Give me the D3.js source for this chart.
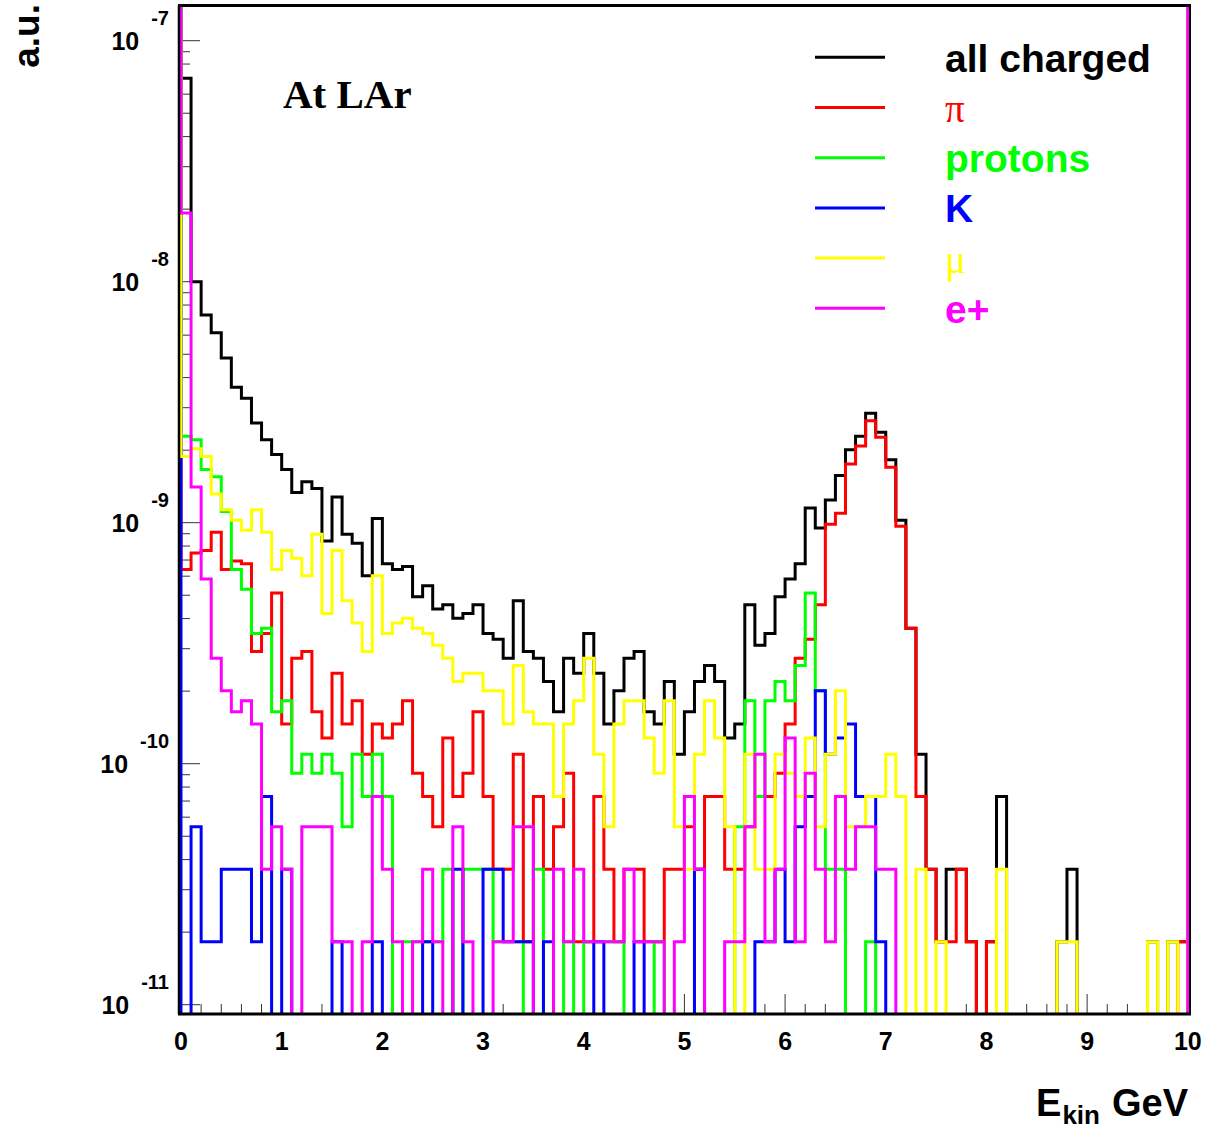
<!DOCTYPE html>
<html>
<head>
<meta charset="utf-8">
<script src="https://cdn.jsdelivr.net/npm/d3@7/dist/d3.min.js"></script>
<style>
  html, body { margin: 0; padding: 0; background: #fff; }
  svg { display: block; }
  .sans { font-family: "Liberation Sans", Arial, Helvetica, sans-serif; font-weight: bold; }
  .serif { font-family: "Liberation Serif", "Times New Roman", serif; }
</style>
</head>
<body>
<svg id="chart" width="1208" height="1131"></svg>
<script>
// Kinetic-energy spectra of charged particles at LAr.
// 100 bins of 0.1 GeV from 0 to 10 GeV; values are entries per bin.
const ENTRY_WEIGHT = 1.826e-11;   // a.u. per entry
const BIN_WIDTH = 0.1;            // GeV

const allCharged = [
  3825, 548, 398, 336, 264, 200, 180, 142, 121, 105,
  91, 73, 81, 76, 46, 70, 49, 45, 33, 57,
  37, 35, 36, 27, 30, 24, 25, 22, 23, 25,
  19, 18, 15, 26, 16, 15, 12, 9, 15, 13,
  19, 13, 8, 11, 15, 16, 9, 8, 12, 6,
  9, 12, 14, 12, 7, 8, 25, 17, 19, 27,
  32, 37, 63, 52, 68, 86, 110, 125, 156, 130,
  100, 56, 20, 6, 2, 1, 2, 2, 1, 0,
  1, 4, 0, 0, 0, 0, 0, 1, 2, 0,
  0, 0, 0, 0, 0, 0, 1, 0, 1, 1
];
const pions = [
  35, 41, 42, 50, 35, 38, 37, 16, 19, 28,
  8, 15, 16, 9, 7, 13, 8, 10, 6, 8,
  7, 8, 10, 5, 4, 3, 7, 4, 5, 9,
  4, 2, 2, 6, 1, 4, 2, 3, 5, 1,
  1, 4, 2, 1, 2, 2, 1, 1, 2, 2,
  3, 2, 4, 4, 2, 2, 3, 4, 4, 5,
  8, 15, 18, 25, 54, 60, 96, 114, 145, 124,
  93, 53, 20, 4, 2, 1, 1, 2, 1, 0,
  1, 0, 0, 0, 0, 0, 0, 0, 0, 0,
  0, 0, 0, 0, 0, 0, 0, 0, 0, 1
];
const protons = [
  125, 121, 91, 85, 61, 35, 29, 19, 20, 9,
  10, 5, 6, 5, 6, 5, 3, 6, 4, 6,
  4, 0, 1, 1, 1, 1, 2, 0, 2, 2,
  2, 1, 1, 1, 0, 2, 0, 0, 1, 0,
  1, 1, 1, 1, 0, 0, 0, 1, 0, 0,
  0, 0, 0, 0, 0, 3, 10, 4, 10, 12,
  10, 14, 28, 11, 2, 2, 0, 0, 1, 0,
  0, 0, 0, 0, 0, 0, 0, 0, 0, 0,
  0, 0, 0, 0, 0, 0, 0, 0, 0, 0,
  0, 0, 0, 0, 0, 0, 0, 0, 0, 0
];
const kaons = [
  0, 3, 1, 1, 2, 2, 2, 1, 4, 0,
  2, 0, 0, 0, 0, 1, 0, 0, 0, 1,
  0, 0, 0, 0, 1, 0, 0, 2, 0, 0,
  2, 2, 1, 1, 1, 0, 1, 0, 0, 0,
  0, 1, 0, 0, 0, 1, 0, 0, 0, 0,
  0, 2, 0, 0, 0, 0, 0, 1, 1, 2,
  1, 3, 4, 11, 6, 7, 8, 4, 4, 1,
  0, 0, 0, 0, 0, 0, 0, 0, 0, 0,
  0, 0, 0, 0, 0, 0, 0, 0, 0, 0,
  0, 0, 0, 0, 0, 0, 0, 0, 0, 0
];
const muons = [
  103, 111, 103, 72, 62, 56, 51, 62, 50, 35,
  42, 39, 33, 49, 23, 42, 26, 21, 16, 33,
  19, 21, 22, 20, 19, 17, 15, 12, 13, 13,
  11, 11, 8, 14, 9, 8, 8, 4, 8, 10,
  15, 6, 3, 8, 10, 10, 7, 5, 10, 3,
  2, 6, 10, 7, 3, 0, 6, 2, 2, 6,
  5, 4, 7, 3, 6, 11, 3, 3, 4, 4,
  6, 4, 0, 2, 0, 1, 0, 0, 0, 0,
  0, 2, 0, 0, 0, 0, 0, 1, 1, 0,
  0, 0, 0, 0, 0, 0, 1, 0, 1, 0
];
const positrons = [
  1056, 77, 32, 15, 11, 9, 10, 8, 2, 3,
  2, 0, 3, 3, 3, 1, 1, 0, 1, 4,
  2, 1, 0, 1, 2, 1, 0, 3, 1, 0,
  0, 1, 1, 3, 3, 0, 0, 2, 1, 2,
  1, 1, 1, 1, 2, 1, 1, 1, 0, 1,
  4, 2, 0, 0, 1, 1, 3, 6, 1, 2,
  7, 1, 5, 2, 1, 4, 2, 3, 3, 2,
  2, 0, 0, 0, 0, 0, 0, 0, 0, 0,
  0, 0, 0, 0, 0, 0, 0, 0, 0, 0,
  0, 0, 0, 0, 0, 0, 0, 0, 0, 0
];

const seriesLabels = ["all charged", "\u03C0", "protons", "K", "\u03BC", "e+"];
const seriesData = [allCharged, pions, protons, kaons, muons, positrons];
const seriesColors = ["#000000", "#ff0000", "#00ff00", "#0000ff", "#ffff00", "#ff00ff"];
const symbolLabels = new Set(["\u03C0", "\u03BC"]);

const xTickLabels = [0, 1, 2, 3, 4, 5, 6, 7, 8, 9, 10];
const yTickExponents = [-7, -8, -9, -10, -11];

// ---- layout ----
const svg = d3.select("#chart");
const frame = { left: 179, right: 1190, top: 5.5, bottom: 1014 };
const x = d3.scaleLinear().domain([0, 10]).range([181, 1187.8]);
const y = d3.scaleLog().domain([9.15e-12, 1.393e-7]).range([frame.bottom, 6]);

svg.append("defs").append("clipPath").attr("id", "plotClip")
  .append("rect")
  .attr("x", frame.left).attr("y", frame.top)
  .attr("width", frame.right - frame.left)
  .attr("height", frame.bottom - frame.top);

// ---- ticks (drawn inward from the axes) ----
const ticks = svg.append("g").attr("stroke", "#333").attr("stroke-width", 1);
d3.range(0, 51).forEach(i => {
  const v = i * 0.2;
  const len = i % 5 === 0 ? 20 : 10;
  ticks.append("line")
    .attr("x1", x(v)).attr("x2", x(v))
    .attr("y1", frame.bottom).attr("y2", frame.bottom - len);
});
const [yLo, yHi] = y.domain();
for (let e = -12; e <= -7; e++) {
  for (let m = 1; m <= 9; m++) {
    const v = m * Math.pow(10, e);
    if (v < yLo || v > yHi) continue;
    const len = m === 1 ? 20 : 10;
    ticks.append("line")
      .attr("x1", frame.left + 1).attr("x2", frame.left + 1 + len)
      .attr("y1", y(v)).attr("y2", y(v));
  }
}

// ---- histograms ----
// Each outline starts and ends with a vertical edge reaching the frame top;
// empty bins fall below the lower edge of the frame.
function histPath(counts) {
  const level = c => c > 0 ? y(c * ENTRY_WEIGHT) : frame.bottom + 12;
  let d = `M${x(0)},${frame.top - 2}`;
  counts.forEach((c, i) => {
    d += `V${level(c)}H${x((i + 1) * BIN_WIDTH)}`;
  });
  d += `V${frame.top - 2}`;
  return d;
}

const hists = svg.append("g").attr("clip-path", "url(#plotClip)");
seriesData.forEach((counts, k) => {
  hists.append("path")
    .attr("d", histPath(counts))
    .attr("fill", "none")
    .attr("stroke", seriesColors[k])
    .attr("stroke-width", 3)
    .attr("stroke-linejoin", "miter")
    .attr("stroke-linecap", "square");
});

// ---- frame ----
const fr = svg.append("g").attr("stroke", "#000");
fr.append("line").attr("x1", frame.left - 1).attr("x2", frame.right + 1)
  .attr("y1", frame.top).attr("y2", frame.top).attr("stroke-width", 3);
fr.append("line").attr("x1", frame.left - 1).attr("x2", frame.right + 1)
  .attr("y1", frame.bottom).attr("y2", frame.bottom).attr("stroke-width", 3);
fr.append("line").attr("x1", frame.left).attr("x2", frame.left)
  .attr("y1", frame.top).attr("y2", frame.bottom).attr("stroke-width", 2.5);
fr.append("line").attr("x1", frame.right).attr("x2", frame.right)
  .attr("y1", frame.top).attr("y2", frame.bottom).attr("stroke-width", 2);

// ---- axis labels ----
svg.append("g").selectAll("text").data(xTickLabels).join("text")
  .attr("class", "sans")
  .attr("x", d => x(d)).attr("y", 1050)
  .attr("text-anchor", "middle")
  .attr("font-size", 25)
  .text(d => d);

const yl = svg.append("g").selectAll("text").data(yTickExponents).join("text")
  .attr("class", "sans")
  .attr("x", 169)
  .attr("y", d => y(Math.pow(10, d)) + 9.5)
  .attr("text-anchor", "end")
  .attr("font-size", 25);
yl.append("tspan").text("10");
yl.append("tspan").attr("dx", 12).attr("dy", -25).attr("font-size", 20).text(d => String(d));

svg.append("text")
  .attr("class", "sans")
  .attr("transform", "translate(39,4) rotate(-90)")
  .attr("text-anchor", "end")
  .attr("font-size", 37)
  .text("a.u.");

const xt = svg.append("text")
  .attr("class", "sans")
  .attr("x", 1188).attr("y", 1116)
  .attr("text-anchor", "end")
  .attr("font-size", 38);
xt.append("tspan").text("E");
xt.append("tspan").attr("font-size", 26).attr("dy", 8).attr("dx", 1).text("kin");
xt.append("tspan").attr("dy", -8).attr("dx", 12).text("GeV");

svg.append("text")
  .attr("class", "serif")
  .attr("font-weight", "bold")
  .attr("x", 283).attr("y", 108)
  .attr("font-size", 41)
  .text("At LAr");

// ---- legend ----
const legend = svg.append("g");
seriesLabels.forEach((label, k) => {
  const ly = 57.3 + k * 50.2;
  legend.append("line")
    .attr("x1", 815).attr("x2", 885)
    .attr("y1", ly).attr("y2", ly)
    .attr("stroke", seriesColors[k]).attr("stroke-width", 3);
  const isSymbol = symbolLabels.has(label);
  legend.append("text")
    .attr("class", isSymbol ? "serif" : "sans")
    .attr("x", 945).attr("y", ly + 14.5)
    .attr("font-size", isSymbol ? 39 : 39)
    .attr("fill", seriesColors[k])
    .text(label);
});
</script>
</body>
</html>
